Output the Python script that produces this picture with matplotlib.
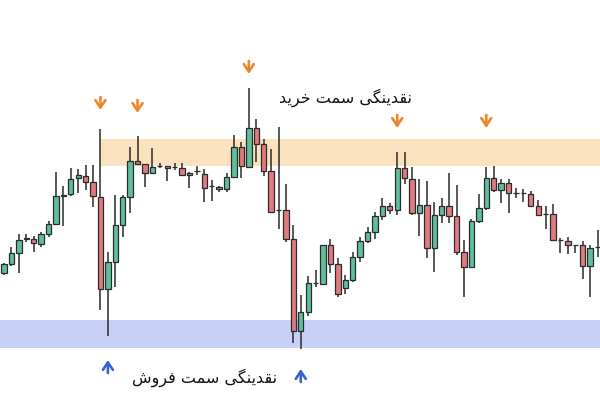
import numpy as np
import matplotlib
matplotlib.use("Agg")
import matplotlib.pyplot as plt

# candle data (price units), one row per candle, left to right
opens = [127, 136, 147, 161, 161, 156, 166, 176, 204, 206, 222, 224, 218, 203, 111, 138, 175, 203, 239, 236,
         227, 234, 232, 233, 232, 225, 229, 226, 214, 211, 211, 223, 253, 233, 272, 256, 229, 190, 190, 161,
         69, 88, 117, 116, 155, 136, 112, 120, 143, 159, 168, 184, 194, 190, 232, 221, 187, 195, 152, 185,
         194, 184, 148, 133, 179, 192, 222, 210, 217, 207, 207, 206, 194, 186, 186, 160, 159, 155, 155, 134,
         153]
highs = [137, 153, 166, 166, 164, 168, 179, 228, 214, 232, 231, 235, 235, 271, 148, 205, 205, 253, 264, 236,
         252, 237, 234, 237, 237, 228, 234, 231, 220, 214, 227, 265, 258, 312, 281, 261, 251, 273, 216, 175,
         105, 124, 130, 155, 161, 142, 125, 148, 163, 173, 188, 202, 197, 248, 248, 233, 221, 219, 198, 202,
         227, 215, 160, 181, 206, 233, 234, 221, 221, 212, 211, 209, 200, 194, 196, 162, 163, 155, 159, 155,
         170]
lows = [125, 134, 127, 158, 148, 153, 163, 175, 174, 204, 207, 210, 193, 90, 64, 113, 163, 187, 235, 213,
        227, 232, 219, 230, 224, 212, 225, 198, 199, 208, 208, 223, 222, 233, 238, 224, 187, 171, 158, 57,
        51, 84, 113, 116, 127, 103, 106, 118, 138, 157, 161, 180, 186, 185, 216, 185, 164, 142, 128, 177,
        177, 145, 103, 133, 177, 190, 208, 197, 187, 202, 198, 193, 184, 171, 159, 147, 146, 147, 121, 103,
        143]
closes = [136, 147, 160, 162, 157, 166, 176, 204, 205, 221, 225, 218, 204, 111, 138, 175, 203, 239, 236, 227,
          233, 234, 234, 233, 225, 227, 229, 212, 214, 213, 223, 253, 234, 272, 256, 229, 188, 190, 161, 69,
          88, 117, 117, 155, 136, 106, 120, 143, 159, 168, 184, 194, 190, 232, 222, 187, 195, 152, 185, 194,
          184, 148, 133, 179, 192, 222, 210, 217, 207, 207, 207, 194, 185, 186, 160, 160, 155, 155, 134, 152,
          153]

# liquidity zones (price ranges)
buy_zone = (234, 261)
sell_zone = (52, 80)

# arrows: candle index and arrow tip price
down_idx = [13, 18, 33, 53, 65]
down_tip = [290, 287, 326, 272, 272]
up_idx = [14, 40]
up_tip = [40, 31]

buy_label = "نقدینگی سمت خرید"
sell_label = "نقدینگی سمت فروش"

GREEN = "#5fbf9c"
RED = "#e07a80"
EDGE = "#2b2b2b"
ORANGE = "#f0862a"
BLUE = "#3563d6"

# minimal arabic/persian shaping (no external reshaper available)
FORMS = {
    "ن": ("\uFEE5", "\uFEE6", "\uFEE7", "\uFEE8"),
    "ق": ("\uFED5", "\uFED6", "\uFED7", "\uFED8"),
    "د": ("\uFEA9", "\uFEAA", None, None),
    "ی": ("\uFBFC", "\uFBFD", "\uFBFE", "\uFBFF"),
    "گ": ("\uFB92", "\uFB93", "\uFB94", "\uFB95"),
    "س": ("\uFEB1", "\uFEB2", "\uFEB3", "\uFEB4"),
    "م": ("\uFEE1", "\uFEE2", "\uFEE3", "\uFEE4"),
    "ت": ("\uFE95", "\uFE96", "\uFE97", "\uFE98"),
    "خ": ("\uFEA5", "\uFEA6", "\uFEA7", "\uFEA8"),
    "ر": ("\uFEAD", "\uFEAE", None, None),
    "ف": ("\uFED1", "\uFED2", "\uFED3", "\uFED4"),
    "و": ("\uFEED", "\uFEEE", None, None),
    "ش": ("\uFEB5", "\uFEB6", "\uFEB7", "\uFEB8"),
}


def dual(ch):
    return ch in FORMS and FORMS[ch][2] is not None


def shape(text):
    out = []
    for word in text.split(" "):
        s = ""
        for i, ch in enumerate(word):
            if ch not in FORMS:
                s += ch
                continue
            prev_ok = i > 0 and dual(word[i - 1])
            next_ok = i < len(word) - 1 and dual(ch) and word[i + 1] in FORMS
            iso, fin, ini, med = FORMS[ch]
            if prev_ok and next_ok:
                s += med
            elif prev_ok:
                s += fin
            elif next_ok:
                s += ini
            else:
                s += iso
        out.append(s)
    return " ".join(out)[::-1]


fig = plt.figure(figsize=(6, 4), dpi=100)
ax = fig.add_axes([0, 0, 1, 1])

x = np.arange(len(opens))

ax.fill_between([down_idx[0], len(x)], buy_zone[0], buy_zone[1], color="#fbe2bf", lw=0, zorder=0)
ax.axhspan(sell_zone[0], sell_zone[1], color="#c8d0f7", lw=0, zorder=0)

for i in x:
    o, h, l, c = opens[i], highs[i], lows[i], closes[i]
    col = GREEN if c >= o else RED
    ax.vlines(i, l, h, color=EDGE, lw=1.1, zorder=2)
    ax.bar(i, c - o, bottom=o, width=0.72, color=col, edgecolor=EDGE, lw=0.9, zorder=3)

arrow_style = "->,head_length=0.45,head_width=0.3"
for i, y in zip(down_idx, down_tip):
    ax.annotate("", xy=(i, y), xytext=(i, y + 13),
                arrowprops=dict(arrowstyle=arrow_style, color=ORANGE, lw=1.9,
                                mutation_scale=12, shrinkA=0, shrinkB=0))
for i, y in zip(up_idx, up_tip):
    ax.annotate("", xy=(i, y), xytext=(i, y - 13),
                arrowprops=dict(arrowstyle=arrow_style, color=BLUE, lw=1.9,
                                mutation_scale=12, shrinkA=0, shrinkB=0))

ax.text(46.0, 302, shape(buy_label), ha="center", va="center", fontsize=11.5,
        family=["DejaVu Sans"], color="#111111")
ax.text(27.0, 22, shape(sell_label), ha="center", va="center", fontsize=11.5,
        family=["DejaVu Sans"], color="#111111")

ax.set_xlim(-0.54, 80.33)
ax.set_ylim(0, 400)
ax.axis("off")

fig.savefig("out.png", dpi=100)
